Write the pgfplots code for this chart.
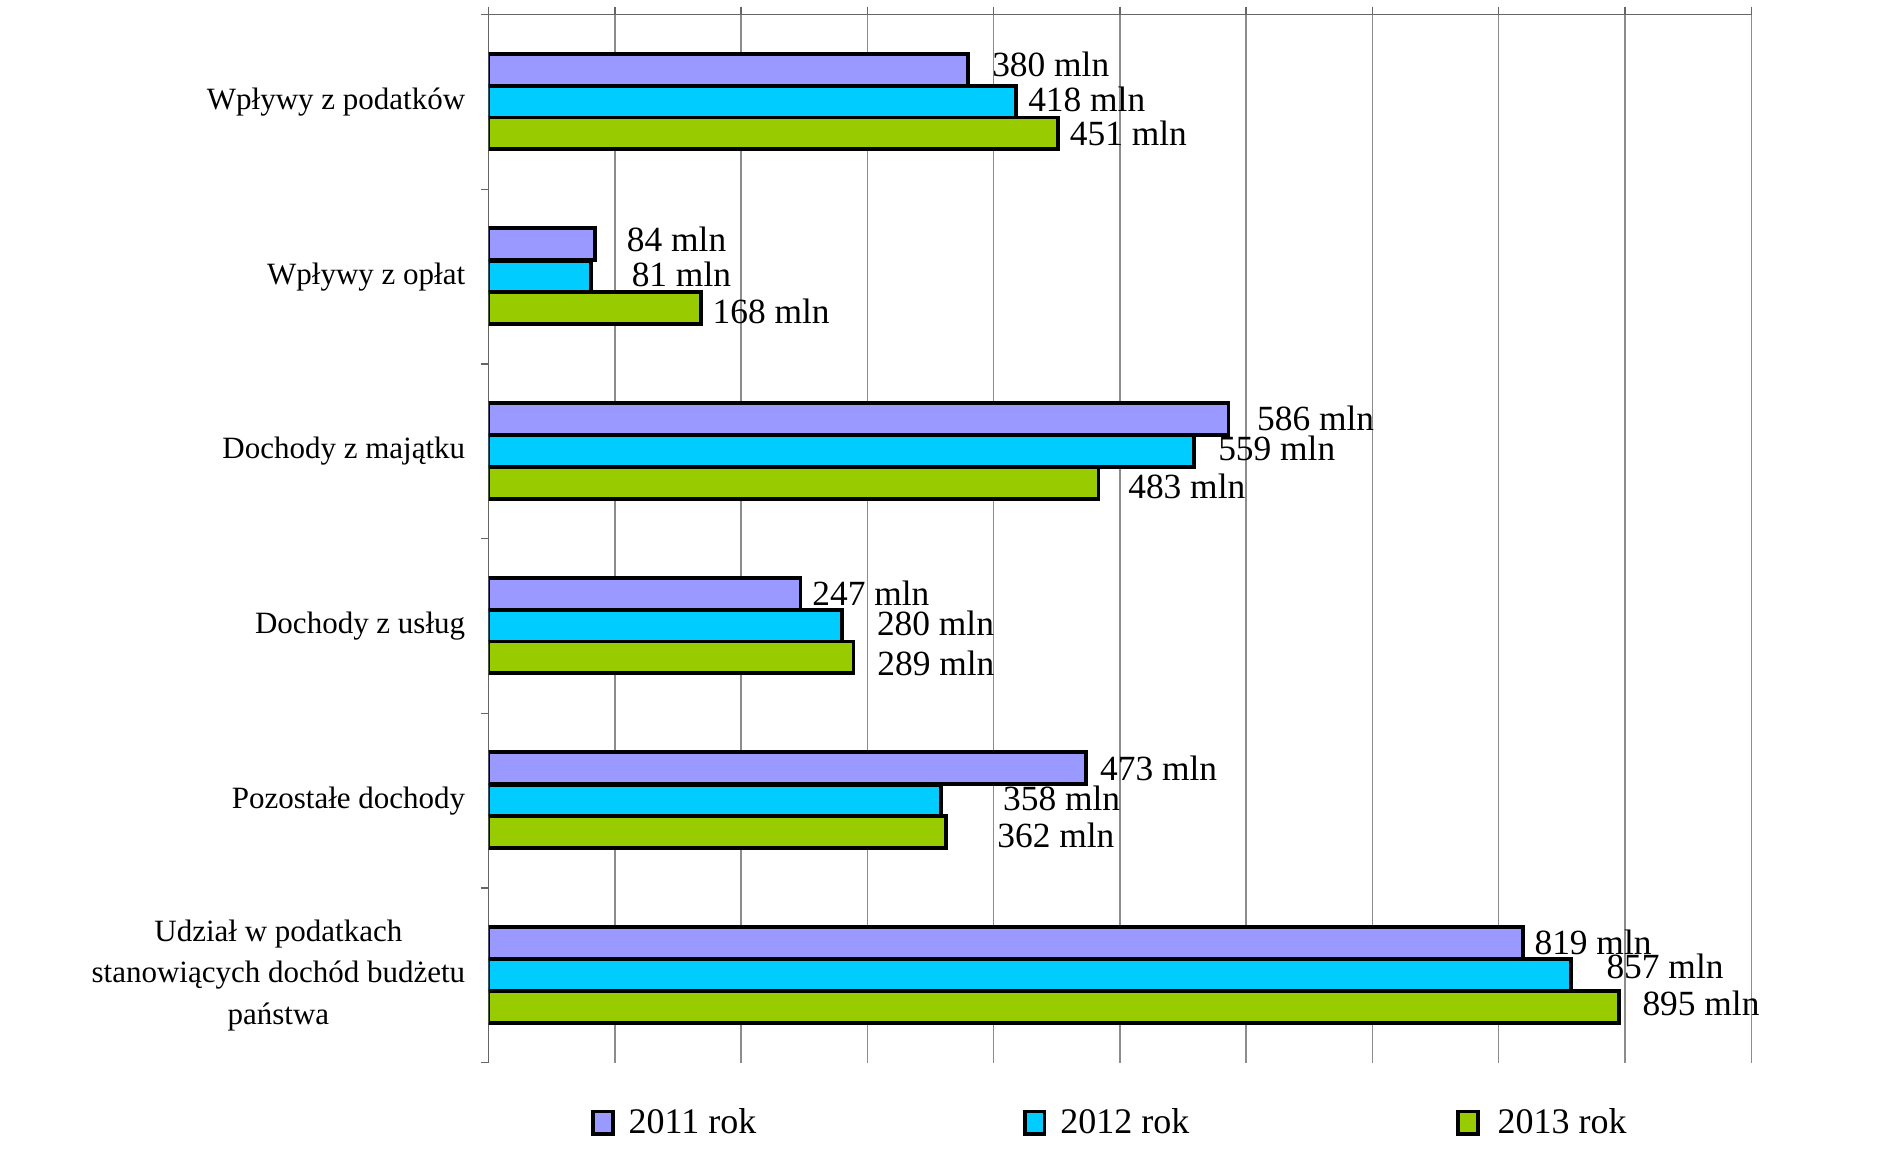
\documentclass[border=0pt]{standalone}
\usepackage{pgfplots}
\pgfplotsset{compat=1.18}
\usepackage{pgfplotstable}
\usepackage{fontspec}
\setmainfont{Liberation Serif}
\definecolor{cA}{HTML}{9999FF}
\definecolor{cB}{HTML}{00CCFF}
\definecolor{cC}{HTML}{99CC00}
\definecolor{gridc}{HTML}{8C8C8C}
\definecolor{axc}{HTML}{666666}

\pgfplotstableread{
x y dx dy
380 0 11.0 18.6
84 1 15.2 18.6
586 2 13.4 16.2
247 3 5.0 16.2
473 4 6.2 16.2
819 5 5.0 16.2
}\tA
\pgfplotstableread{
x y dx dy
418 0 5.0 1.2
81 1 19.5 1.2
559 2 11.0 1.2
280 3 16.5 1.2
358 4 30.3 1.2
857 5 17.0 4.2
}\tB
\pgfplotstableread{
x y dx dy
451 0 5.0 -15.7
168 1 5.0 -17.5
483 2 14.0 -17.5
289 3 11.0 -18.7
362 4 24.9 -17.5
895 5 11.0 -13.9
}\tC

\pgfplotsset{
  mybar/.style={xbar, bar width=0.183, draw=black, line width=1.9pt,
    legend image code/.code={\draw[##1, line width=1.9pt] (0pt,-5.6pt) rectangle (9.7pt,5.6pt);}},
}

\begin{document}
\begin{tikzpicture}
\useasboundingbox (-244.3pt,-47.7pt) rectangle (699.2pt,531.3pt);
\begin{axis}[
  at={(0,0)}, anchor=south west,
  width=631.3pt, height=524pt, scale only axis,
  xmin=0, xmax=1000, ymin=-0.5, ymax=5.5, y dir=reverse,
  axis x line=top, axis y line=left,
  axis line style={-, draw=axc, line width=0.8pt},
  xtick={0,100,...,1000}, xticklabels={},
  xmajorgrids, grid style={gridc, line width=0.7pt},
  tick align=outside, major tick length=4pt,
  tick style={axc, line width=0.7pt},
  ytick={-0.5,0.5,...,5.5}, yticklabels={},
  extra y ticks={0,1,2,3,4,5},
  extra y tick labels={{Wpływy z podatków},{Wpływy z opłat},{Dochody z majątku},{Dochody z usług},{Pozostałe dochody},{Udział w podatkach\\stanowiących dochód budżetu\\państwa}},
  extra y tick style={tick style={draw=none}},
  yticklabel style={font=\fontsize{15.5}{20.8}\selectfont, align=center, inner sep=0pt, xshift=-7.5pt},
  point meta=x,
  /pgf/number format/assume math mode=true,
  nodes near coords={\pgfmathprintnumber{\pgfplotspointmeta} mln},
  visualization depends on={\thisrow{dx}\as\dx},
  visualization depends on={\thisrow{dy}\as\dy},
  nodes near coords style={font=\fontsize{17.7}{20}\selectfont, text=black, anchor=west, inner sep=0pt, xshift=\dx pt, yshift=\dy pt},
  legend columns=3,
  legend style={at={(0.493,-0.0574)}, anchor=center, draw=none, fill=none,
    font=\fontsize{18}{20}\selectfont,
    /tikz/every odd column/.append style={column sep=5pt},
    /tikz/every even column/.append style={column sep=131.5pt}},
]
\addplot[mybar, bar shift=-0.185, fill=cA] table[x=x,y=y]{\tA};
\addplot[mybar, bar shift=0, fill=cB] table[x=x,y=y]{\tB};
\addplot[mybar, bar shift=0.18, fill=cC] table[x=x,y=y]{\tC};
\legend{2011 rok, 2012 rok, {\hspace{2pt}2013 rok}}
\end{axis}
\end{tikzpicture}
\end{document}
